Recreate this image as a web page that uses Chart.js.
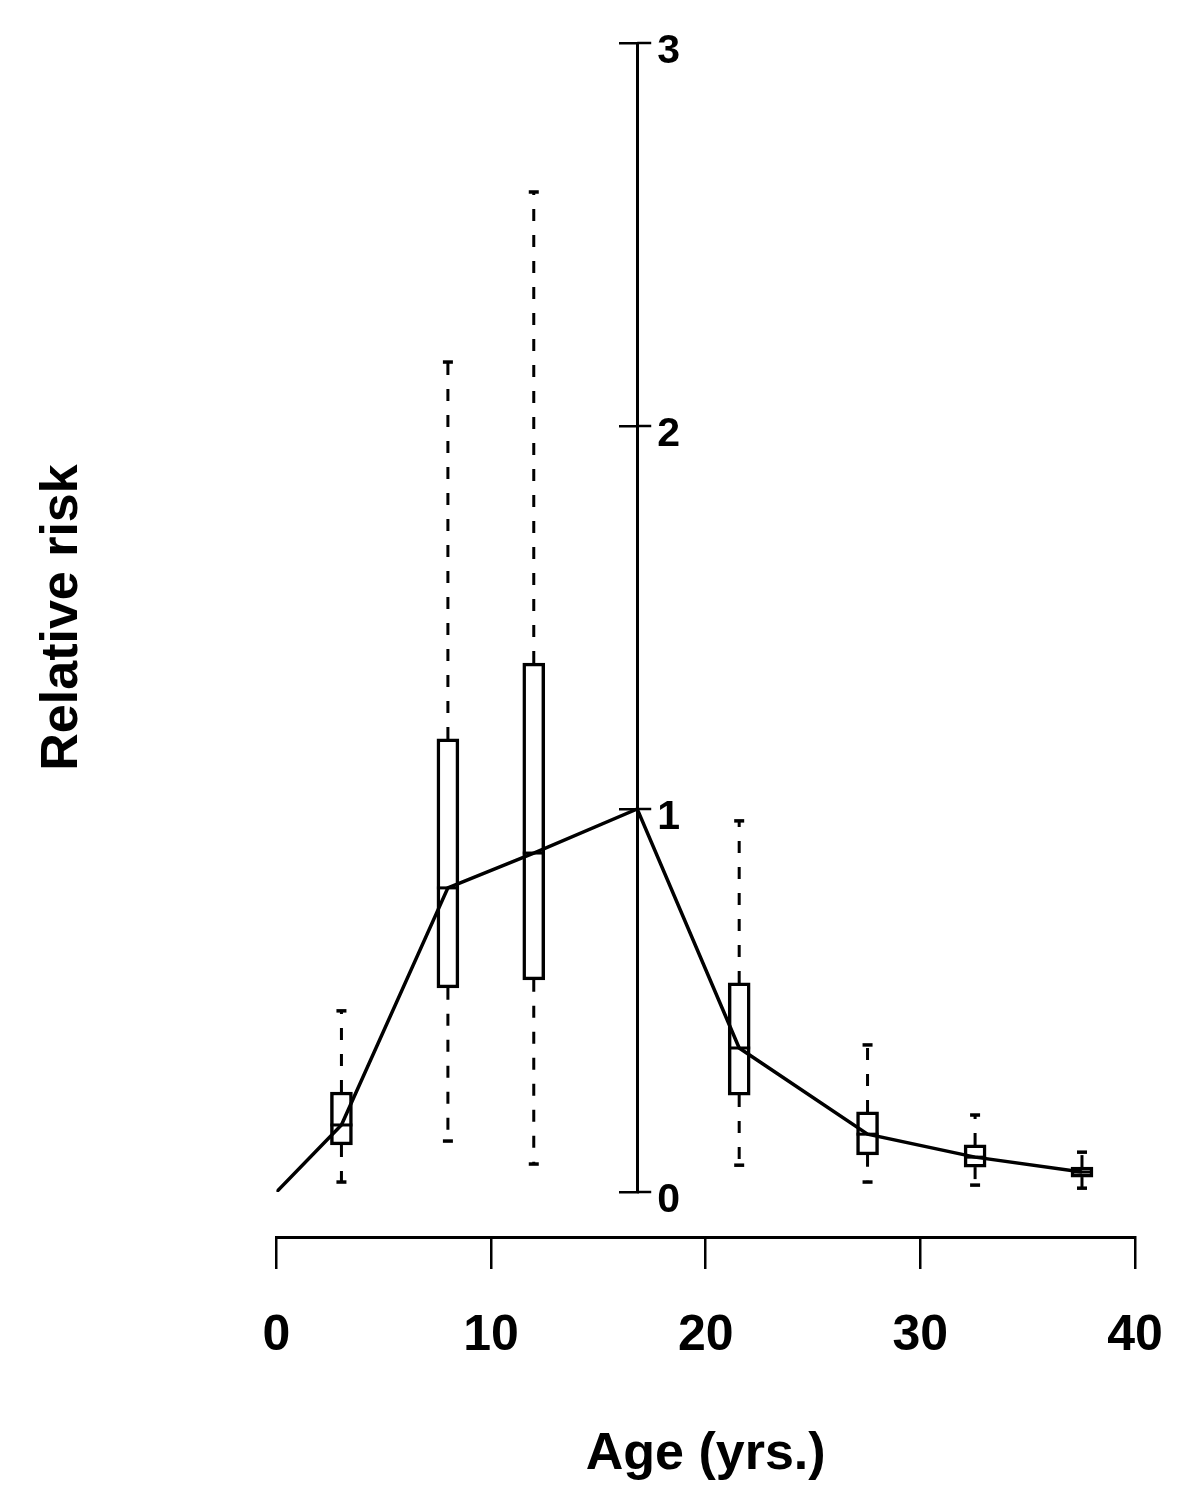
<!DOCTYPE html>
<html>
<head>
<meta charset="utf-8">
<script src="https://cdn.jsdelivr.net/npm/chart.js@4.4.1/dist/chart.umd.min.js"></script>
<style>
  body { margin: 0; background: #fff; }
  #wrap { width: 1198px; height: 1510px; }
</style>
</head>
<body>
<div id="wrap"><canvas id="riskchart"></canvas></div>
<script>
// age groups (box centres) and relative-risk summaries
const boxAge   = [3.03, 7.99, 11.99, 21.56, 27.54, 32.55, 37.53];
const boxMed   = [0.175, 0.794, 0.885, 0.376, 0.151, 0.091, 0.052];
const boxQ1    = [0.123, 0.533, 0.554, 0.253, 0.097, 0.065, 0.039];
const boxQ3    = [0.261, 1.183, 1.381, 0.546, 0.209, 0.123, 0.065];
const boxLow   = [0.026, 0.133, 0.073, 0.070, 0.026, 0.018, 0.010];
const boxHigh  = [0.473, 2.167, 2.611, 0.969, 0.384, 0.201, 0.104];

// the reference age group (risk = 1), where the y axis sits
const refAge = 16.81;

// connecting line
const lineAge  = [0, 3.03, 7.99, 11.99, 16.81, 21.56, 27.54, 32.55, 37.53];
const lineRisk = [0, 0.175, 0.794, 0.885, 1, 0.376, 0.151, 0.091, 0.052];

const xTicks = [0, 10, 20, 30, 40];
const yTicks = [0, 1, 2, 3];

const FONT = 'Liberation Sans, Arial, sans-serif';

// whiskers, caps, medians, the right half of the y ticks and the y tick labels
const boxExtras = {
  id: 'boxExtras',
  afterDatasetsDraw(chart) {
    const ctx = chart.ctx;
    const xs = chart.scales.x;
    const ys = chart.scales.y;
    const seg = (x1, y1, x2, y2) => {
      ctx.beginPath();
      ctx.moveTo(x1, y1);
      ctx.lineTo(x2, y2);
      ctx.stroke();
    };
    ctx.save();
    ctx.strokeStyle = '#000';
    boxAge.forEach((age, i) => {
      const px = xs.getPixelForValue(age);
      const pHi = ys.getPixelForValue(boxHigh[i]);
      const pLo = ys.getPixelForValue(boxLow[i]);
      const pQ1 = ys.getPixelForValue(boxQ1[i]);
      const pQ3 = ys.getPixelForValue(boxQ3[i]);
      const pMed = ys.getPixelForValue(boxMed[i]);
      ctx.lineWidth = 3;
      ctx.setLineDash([12, 14]);
      seg(px, pQ3, px, pHi);
      seg(px, pQ1, px, pLo);
      ctx.setLineDash([]);
      ctx.lineWidth = 3.5;
      seg(px - 5, pHi, px + 5, pHi);
      seg(px - 5, pLo, px + 5, pLo);
      ctx.lineWidth = 3;
      seg(px - 11, pMed, px + 11, pMed);
    });
    const ax = xs.getPixelForValue(refAge);
    ctx.lineWidth = 2.5;
    ctx.fillStyle = '#000';
    ctx.font = 'bold 41px ' + FONT;
    ctx.textAlign = 'left';
    ctx.textBaseline = 'middle';
    ys.ticks.forEach(t => {
      const py = ys.getPixelForValue(t.value);
      seg(ax, py, ax + 14, py);
      ctx.fillText(String(t.value), ax + 20, py + 9);
    });
    ctx.restore();
  }
};

const ctx = document.getElementById('riskchart').getContext('2d');
const riskChart = new Chart(ctx, {
  type: 'bar',
  data: {
    datasets: [{
      type: 'line',
      label: 'Relative risk',
      data: lineAge.map((a, i) => ({x: a, y: lineRisk[i]})),
      borderColor: '#000',
      borderWidth: 3.5,
      pointRadius: 0,
      tension: 0,
      fill: false,
      order: 0
    }, {
      label: 'IQR',
      data: boxAge.map((a, i) => ({x: a, y: [boxQ1[i], boxQ3[i]]})),
      backgroundColor: '#fff',
      borderColor: '#000',
      borderWidth: 3.5,
      borderSkipped: false,
      barThickness: 22,
      order: 1
    }]
  },
  options: {
    responsive: true,
    maintainAspectRatio: false,
    animation: false,
    devicePixelRatio: 1,
    layout: { padding: { left: 31, right: 63, top: 43, bottom: 318 } },
    plugins: { legend: { display: false }, tooltip: { enabled: false } },
    scales: {
      x: {
        type: 'linear',
        position: { y: -0.1175 },
        min: 0,
        max: 40,
        offset: false,
        afterBuildTicks: s => { s.ticks = xTicks.map(v => ({value: v})); },
        // the tick labels may hang past the plot edge, as in the original
        afterFit: s => { s.paddingLeft = 0; s.paddingRight = 0; },
        grid: { offset: false, drawOnChartArea: false, drawTicks: true, tickLength: 30, lineWidth: 2.5, color: '#000' },
        border: { display: true, color: '#000', width: 3 },
        ticks: { color: '#000', padding: 39, maxRotation: 0, font: { family: FONT, size: 50, weight: 'bold' } },
        title: {
          display: true,
          text: 'Age (yrs.)',
          color: '#000',
          padding: { top: 18, bottom: 0 },
          font: { family: FONT, size: 52, weight: 'bold' }
        }
      },
      y: {
        type: 'linear',
        position: { x: refAge },
        min: 0,
        max: 3,
        afterBuildTicks: s => { s.ticks = yTicks.map(v => ({value: v})); },
        grid: { drawOnChartArea: false, drawTicks: true, tickLength: 17, lineWidth: 2.5, color: '#000' },
        border: { display: true, color: '#000', width: 3 },
        ticks: { display: false }
      },
      yTitle: {
        axis: 'y',
        type: 'linear',
        position: 'left',
        grid: { display: false, drawTicks: false },
        border: { display: false },
        ticks: { display: false },
        title: {
          display: true,
          text: 'Relative risk',
          color: '#000',
          padding: { top: 0, bottom: 183 },
          font: { family: FONT, size: 52, weight: 'bold' }
        }
      }
    }
  },
  plugins: [boxExtras]
});
</script>
</body>
</html>
